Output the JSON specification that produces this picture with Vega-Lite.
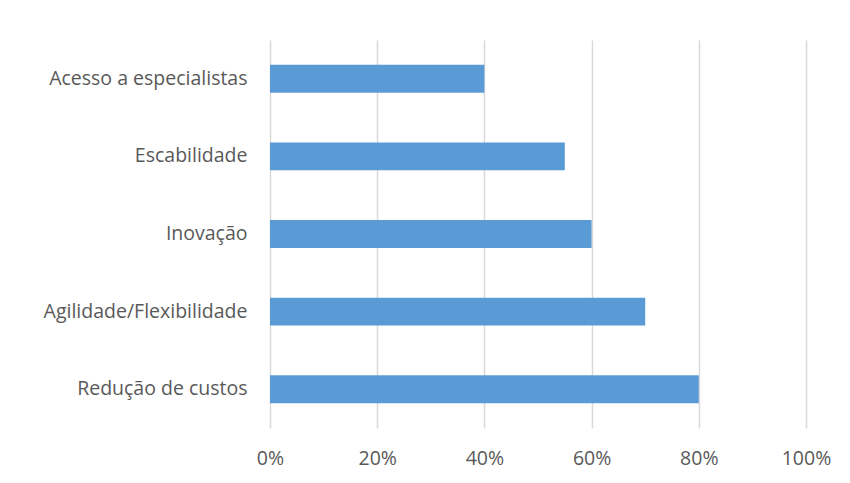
{
  "$schema": "https://vega.github.io/schema/vega-lite/v6.json",
  "autosize": "none",
  "width": 536,
  "height": 388,
  "padding": {"left": 270, "top": 40, "right": 44, "bottom": 55},
  "background": "white",
  "data": {
    "values": [
      {"categoria": "Acesso a especialistas", "valor": 0.40},
      {"categoria": "Escabilidade", "valor": 0.55},
      {"categoria": "Inovação", "valor": 0.60},
      {"categoria": "Agilidade/Flexibilidade", "valor": 0.70},
      {"categoria": "Redução de custos", "valor": 0.80}
    ]
  },
  "mark": {"type": "bar", "color": "#5B9BD5"},
  "encoding": {
    "y": {
      "field": "categoria",
      "type": "nominal",
      "sort": null,
      "scale": {"paddingInner": 0.64, "paddingOuter": 0.32},
      "axis": {
        "title": null,
        "domain": false,
        "ticks": false,
        "grid": false,
        "labelPadding": 23,
        "labelFont": "Open Sans",
        "labelFontSize": 19.5,
        "labelFontWeight": "normal",
        "labelColor": "#595959",
        "labelLimit": 300
      }
    },
    "x": {
      "field": "valor",
      "type": "quantitative",
      "scale": {"domain": [0, 1], "nice": false},
      "axis": {
        "title": null,
        "format": ".0%",
        "values": [0, 0.2, 0.4, 0.6, 0.8, 1],
        "domain": false,
        "ticks": false,
        "grid": true,
        "gridColor": "#d9d9d9",
        "gridWidth": 1.5,
        "labelFlush": false,
        "labelPadding": 21,
        "labelFont": "Open Sans",
        "labelFontSize": 19.5,
        "labelFontWeight": "normal",
        "labelColor": "#595959"
      }
    }
  },
  "config": {"view": {"stroke": null}}
}
